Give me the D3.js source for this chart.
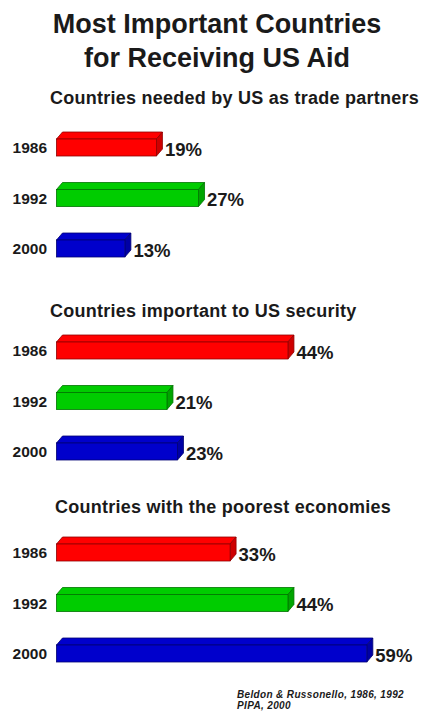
<!DOCTYPE html>
<html>
<head>
<meta charset="utf-8">
<script src="https://cdn.jsdelivr.net/npm/d3@7"></script>
<style>
  html, body { margin: 0; padding: 0; background: #fff; }
  svg { display: block; }
  text { font-family: "Liberation Sans", Arial, Helvetica, sans-serif; fill: #1a1a1a; }
</style>
</head>
<body>
<svg id="chart" width="422" height="711"></svg>
<script>
// Survey years, one bar per year in each question group
const years = ["1986", "1992", "2000"];

// Question groups
const groups = [
  "Countries needed by US as trade partners",
  "Countries important to US security",
  "Countries with the poorest economies"
];

// Percent of respondents, by year, for each group
const tradePartners = [19, 27, 13];
const usSecurity = [44, 21, 23];
const poorestEconomies = [33, 44, 59];

const titleLines = ["Most Important Countries", "for Receiving US Aid"];
const sourceLines = ["Beldon & Russonello, 1986, 1992", "PIPA, 2000"];

// Bar face colours per year
const yearColors = ["#ff0000", "#00cc00", "#0000cc"];

const seriesByGroup = [tradePartners, usSecurity, poorestEconomies];

// ---- layout ----
const svg = d3.select("#chart");
const barH = 17, dx = 6, dy = 7;
const groupTop = [139, 342, 544];
const headingY = [104, 317, 513];
const headingX = [50, 50, 55];

const x = d3.scaleLinear().domain([0, 100]).range([56.5, 582.5]);
const yRow = d3.scalePoint().domain(years).range([0, 101]);

// Title
svg.append("g").selectAll("text")
  .data(titleLines)
  .join("text")
  .attr("x", 217)
  .attr("y", (d, i) => 33 + i * 34)
  .attr("text-anchor", "middle")
  .attr("font-size", 27)
  .attr("font-weight", "bold")
  .text(d => d);

groups.forEach((label, gi) => {
  const g = svg.append("g");
  const values = seriesByGroup[gi];
  const rows = years.map((yr, i) => ({ year: yr, value: values[i], color: yearColors[i] }));

  g.append("text")
    .attr("x", headingX[gi])
    .attr("y", headingY[gi])
    .attr("font-size", 18)
    .attr("letter-spacing", 0.25)
    .attr("font-weight", "bold")
    .text(label);

  const row = g.selectAll("g.row")
    .data(rows)
    .join("g")
    .attr("class", "row")
    .attr("transform", d => `translate(0,${groupTop[gi] + yRow(d.year)})`);

  // year label
  row.append("text")
    .attr("x", 47)
    .attr("y", barH - 3)
    .attr("text-anchor", "end")
    .attr("font-size", 15.5)
    .attr("font-weight", "bold")
    .text(d => d.year);

  const x0 = x(0);
  const edge = d => d3.color(d.color).darker(1.6);

  // top face
  row.append("path")
    .attr("d", d => {
      const x1 = x(d.value);
      return `M${x0},0L${x0 + dx},${-dy}L${x1 + dx},${-dy}L${x1},0Z`;
    })
    .attr("fill", d => d.color)
    .attr("stroke", edge)
    .attr("stroke-width", 0.8)
    .attr("stroke-linejoin", "round");

  // side face
  row.append("path")
    .attr("d", d => {
      const x1 = x(d.value);
      return `M${x1},0L${x1 + dx},${-dy}L${x1 + dx},${barH - dy}L${x1},${barH}Z`;
    })
    .attr("fill", d => d3.color(d.color).darker(0.6))
    .attr("stroke", edge)
    .attr("stroke-width", 0.8)
    .attr("stroke-linejoin", "round");

  // front face
  row.append("rect")
    .attr("x", x0)
    .attr("y", 0)
    .attr("width", d => x(d.value) - x0)
    .attr("height", barH)
    .attr("fill", d => d.color)
    .attr("stroke", edge)
    .attr("stroke-width", 0.8);

  // value label
  row.append("text")
    .attr("x", d => x(d.value) + dx + 2.5)
    .attr("y", barH - 0.5)
    .attr("font-size", 18.5)
    .attr("font-weight", "bold")
    .text(d => d.value + "%");
});

// Source note
svg.append("g").selectAll("text")
  .data(sourceLines)
  .join("text")
  .attr("x", 237)
  .attr("y", (d, i) => 697.5 + i * 11)
  .attr("font-size", 10)
  .attr("letter-spacing", 0.35)
  .attr("font-weight", "bold")
  .attr("font-style", "italic")
  .text(d => d);
</script>
</body>
</html>
